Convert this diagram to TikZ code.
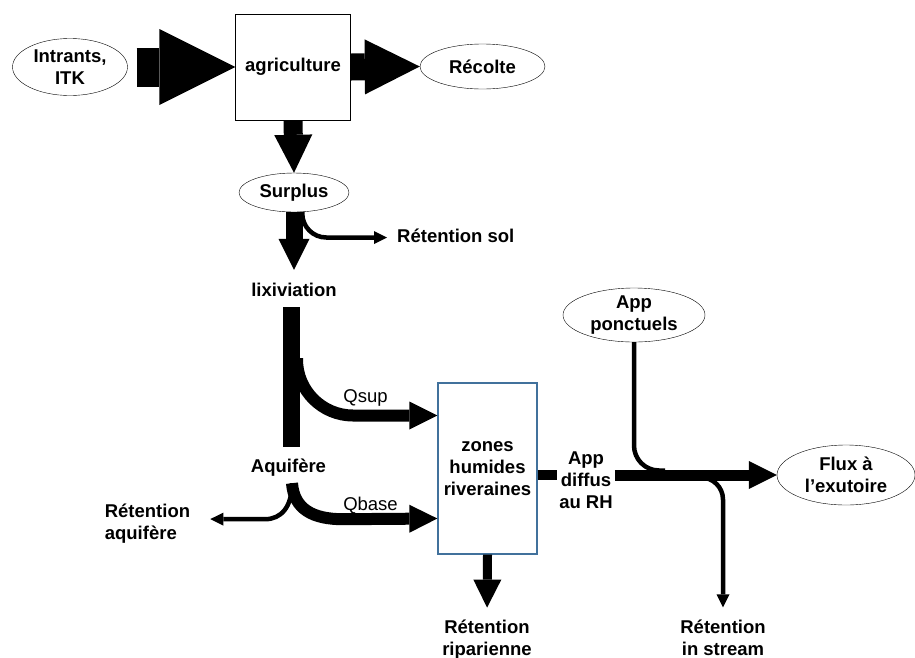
\documentclass[tikz,border=0pt]{standalone}
\usepackage{fontspec}
\setmainfont{Liberation Sans}
\usetikzlibrary{arrows.meta,shapes.geometric}
\definecolor{zoneblue}{HTML}{41719C}
\newcommand\flowsize{\fontsize{18.5}{22}\selectfont}

\begin{document}
\begin{tikzpicture}[x=1pt,y=-1pt,font=\flowsize\bfseries,
every node/.style={align=center,inner sep=2pt},
word/.style={text height=13pt,text depth=4pt},
qlabel/.style={word,font=\flowsize},
oval/.style={draw,ellipse,inner xsep=0pt,inner ysep=-2pt},
flow/.style 2 args={line width=#1,-{Triangle[length=#2,width=#2,line width=0pt]}},
pipe/.style={line width=#1}]
\useasboundingbox (0,0) rectangle (915,657);
\node[oval,minimum width=115pt,minimum height=57pt](intr) at (70,67){Intrants,\\ITK};
\node[draw,minimum width=115pt,minimum height=106pt](agri) at (293,67){agriculture};
\node[oval,minimum width=125pt,minimum height=45pt](recol) at (482.5,66.5){Récolte};
\node[oval,minimum width=110pt,minimum height=39pt](surp) at (294,192.5){Surplus};
\node[word,anchor=west](rsol) at (395,237.5){Rétention sol};
\node[word](lixi) at (294,291.5){lixiviation};
\node[word](aqui) at (288.5,467.5){Aquifère};
\node[align=left](raq) at (147.5,524){Rétention\\aquifère};
\node[qlabel](qsup) at (365.5,397.5){Qsup};
\node[qlabel](qbase) at (370.5,505.5){Qbase};
\node[draw=zoneblue,line width=1.3pt,minimum width=99pt,minimum height=171pt](zones) at (487.5,468.5){zones\\humides\\riveraines};
\node(appd) at (586,480.5){App\\diffus\\au RH};
\node(rrip) at (487,639.5){Rétention\\riparienne};
\node[oval,minimum width=142pt,minimum height=54pt](ponc) at (634,315){App\\ponctuels};
\node[oval,minimum width=138pt,minimum height=60pt](flux) at (846,475){Flux à\\l’exutoire};
\node(rstr) at (723,637.5){Rétention\\in stream};
\coordinate(bartop) at ([xshift=-2.5pt,yshift=-5pt]lixi.south);
\coordinate(qsplit) at (297,358);
\coordinate(aqsplit) at ([xshift=3.5pt,yshift=-5pt]aqui.south);
\coordinate(dif) at ([yshift=-6.5pt]zones.east);
\coordinate(merge) at (665,470.5);
\coordinate(instr) at (690,477.5);
\draw[flow={39pt}{76pt},shorten <=9pt](intr.east)--(agri.west);
\draw[flow={27pt}{55pt}](agri.east)--(recol.west);
\draw[flow={19pt}{38pt}](agri.south)--(surp.north);
\draw[flow={17pt}{31pt},shorten >=11pt](surp.south)--(lixi.north);
\draw[flow={4.5pt}{13pt},rounded corners=24pt,shorten >=8pt](surp.-67)|-(rsol.west);
\draw[pipe=17pt,shorten >=10pt](bartop)--(bartop |- aqui.north);
\draw[flow={12pt}{28pt},rounded corners=56pt](qsplit)|-([yshift=53pt]zones.west);
\draw[flow={12pt}{28pt}](aqsplit) .. controls +(2,26) and +(-30,0) .. +(51,36)--([yshift=-50pt]zones.west);
\draw[flow={4.5pt}{13pt},shorten >=18pt](aqsplit) .. controls +(0,24) and +(16,0) .. +(-27,36)--([yshift=5pt]raq.east);
\draw[pipe=10pt](dif)--(dif -| appd.west);
\draw[flow={11pt}{28pt}](dif -| appd.east)--(flux.west);
\draw[pipe=4.5pt,rounded corners=25pt](ponc.south)|-(merge);
\draw[flow={4.5pt}{13pt},rounded corners=22pt,shorten >=10pt](instr)-|(rstr.north);
\draw[flow={9pt}{28pt},shorten >=10pt](zones.south)--(rrip.north);
\end{tikzpicture}
\end{document}
